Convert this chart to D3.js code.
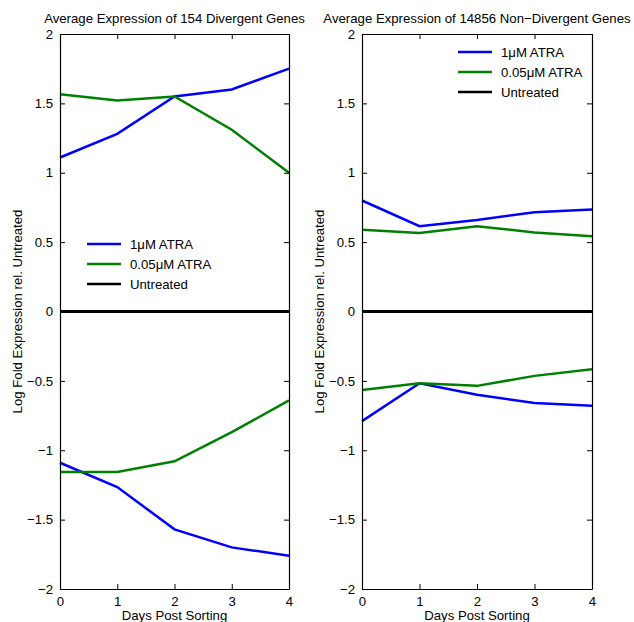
<!DOCTYPE html>
<html>
<head>
<meta charset="utf-8">
<script src="https://cdn.jsdelivr.net/npm/d3@7"></script>
<style>
  body { margin: 0; background: #fff; }
  svg { font-family: "Liberation Sans", Arial, sans-serif; }
</style>
</head>
<body>
<script>
// days on the x axis
const days = [0, 1, 2, 3, 4]
const yTicks = [-2, -1.5, -1, -0.5, 0, 0.5, 1, 1.5, 2]
const titles = ['Average Expression of 154 Divergent Genes', 'Average Expression of 14856 Non\u2212Divergent Genes']
const legendLabels = ['1\u03bcM ATRA', '0.05\u03bcM ATRA', 'Untreated']

// left panel, divergent genes
const divHighATRAup = [1.11, 1.28, 1.55, 1.60, 1.75]
const divLowATRAup = [1.565, 1.52, 1.55, 1.31, 1.0]
const divHighATRAdown = [-1.09, -1.265, -1.57, -1.70, -1.76]
const divLowATRAdown = [-1.157, -1.157, -1.08, -0.87, -0.64]

// right panel, non-divergent genes
const nonHighATRAup = [0.80, 0.615, 0.66, 0.716, 0.735]
const nonLowATRAup = [0.59, 0.565, 0.615, 0.57, 0.543]
const nonHighATRAdown = [-0.79, -0.517, -0.60, -0.66, -0.68]
const nonLowATRAdown = [-0.565, -0.517, -0.536, -0.464, -0.416]
const untreated = [0, 0, 0, 0, 0]

const BLUE = '#0000ff', GREEN = '#008000', BLACK = '#000'
const FS = 13.2

const panels = [
    { x0: 60, x1: 289, title: titles[0],
      series: [[divHighATRAup, BLUE], [divLowATRAup, GREEN], [divHighATRAdown, BLUE], [divLowATRAdown, GREEN], [untreated, BLACK]],
      legend: { x: 87, y: 244 } },
    { x0: 362, x1: 592, title: titles[1],
      series: [[nonHighATRAup, BLUE], [nonLowATRAup, GREEN], [nonHighATRAdown, BLUE], [nonLowATRAdown, GREEN], [untreated, BLACK]],
      legend: { x: 458, y: 52 } }
]

const plotTop = 34, plotBottom = 589

const svg = d3.select('body').append('svg')
    .attr('width', 634)
    .attr('height', 622)

panels.forEach(p => {
    const x = d3.scaleLinear().domain([0, 4]).range([p.x0, p.x1])
    const y = d3.scaleLinear().domain([-2, 2]).range([plotBottom, plotTop])
    const g = svg.append('g')

    const line = d3.line()
        .x((d, i) => x(days[i]))
        .y(d => y(d))

    p.series.forEach(([vals, color]) => {
        g.append('path')
            .datum(vals)
            .attr('d', line)
            .attr('fill', 'none')
            .attr('stroke', color)
            .attr('stroke-width', color == BLACK ? 3 : 2.5)
    })

    // axes with inward ticks on all four sides
    g.append('g')
        .attr('transform', `translate(0,${plotBottom})`)
        .call(d3.axisBottom(x).tickValues(days).tickSizeInner(-5).tickSizeOuter(0).tickPadding(8)
            .tickFormat(d3.format('d')))
    g.append('g')
        .attr('transform', `translate(0,${plotTop})`)
        .call(d3.axisTop(x).tickValues(days).tickSizeInner(-5).tickSizeOuter(0).tickFormat(''))
    g.append('g')
        .attr('transform', `translate(${p.x0},0)`)
        .call(d3.axisLeft(y).tickValues(yTicks).tickSizeInner(-5).tickSizeOuter(0).tickPadding(7)
            .tickFormat(d => String(d).replace('-', '\u2212')))
    g.append('g')
        .attr('transform', `translate(${p.x1},0)`)
        .call(d3.axisRight(y).tickValues(yTicks).tickSizeInner(-5).tickSizeOuter(0).tickFormat(''))

    g.selectAll('.domain').attr('stroke', '#000').attr('stroke-width', 1.2)
    g.selectAll('.tick line').attr('stroke', '#000')
    g.selectAll('.tick text')
        .attr('font-size', FS)
        .attr('font-family', '"Liberation Sans", Arial, sans-serif')
        .attr('fill', '#000')

    g.append('text')
        .attr('x', (p.x0 + p.x1) / 2)
        .attr('y', 23)
        .attr('text-anchor', 'middle')
        .attr('font-size', FS)
        .text(p.title)

    g.append('text')
        .attr('x', (p.x0 + p.x1) / 2)
        .attr('y', 620)
        .attr('text-anchor', 'middle')
        .attr('font-size', FS)
        .text('Days Post Sorting')

    g.append('text')
        .attr('transform', `translate(${p.x0 - 38},${(plotTop + plotBottom) / 2}) rotate(-90)`)
        .attr('text-anchor', 'middle')
        .attr('font-size', FS)
        .text('Log Fold Expression rel. Untreated')

    const leg = g.append('g').attr('transform', `translate(${p.legend.x},${p.legend.y})`)
    legendLabels.forEach((lab, i) => {
        leg.append('line')
            .attr('x1', 0).attr('x2', 34)
            .attr('y1', i * 20).attr('y2', i * 20)
            .attr('stroke', [BLUE, GREEN, BLACK][i])
            .attr('stroke-width', 2.5)
        leg.append('text')
            .attr('x', 43).attr('y', i * 20 + 5)
            .attr('font-size', FS)
            .text(lab)
    })
})
</script>
</body>
</html>
